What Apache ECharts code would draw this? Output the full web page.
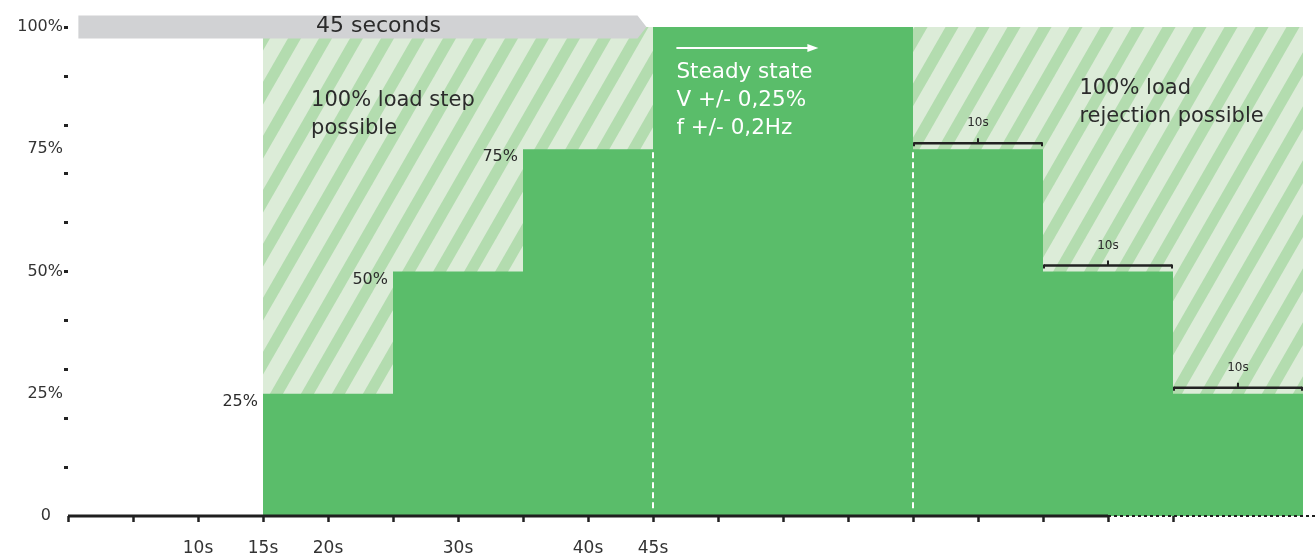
<!DOCTYPE html>
<html><head><meta charset="utf-8">
<script src="https://cdn.jsdelivr.net/npm/echarts@6/dist/echarts.min.js"></script>
<style>html,body{margin:0;padding:0;background:#fff}#c{width:1316px;height:558px}</style>
</head><body><div id="c"></div>
<script>
// ---- data ----
const stepStart = [15, 25, 35, 45, 65, 75, 85];
const stepEnd   = [25, 35, 45, 65, 75, 85, 95];
const loadPct   = [25, 50, 75, 100, 75, 50, 25];
const riseLabels = ['25%', '50%', '75%'];
const holdLabels = ['10s', '10s', '10s'];
const xTickValues = [0,5,10,15,20,25,30,35,40,45,50,55,60,65,70,75,80,85];
const xLabelValues = [10, 15, 20, 30, 40, 45];
const yTickValues = [10,20,30,40,50,60,70,80,90,100];
const yLabelValues = [0, 25, 50, 75, 100];
const hatchSpan = [15, 95, 100];
const dashedAt = [45, 65];
const dashedTop = 75;
const spanBar = [0.8, 44.5];
const spanText = '45 seconds';
const noteTexts = ['100% load step\npossible', 'Steady state\nV +/- 0,25%\nf +/- 0,2Hz', '100% load\nrejection possible'];
const axisSolidEnd = 80;
const axisEnd = 96;

const GREEN = '#5abd6a';
const DARK = '#2b2b2b';
const FONT = '"DejaVu Sans", sans-serif';

function makeHatch() {
  const W = 31, H = 54, S = 13;
  const c = document.createElement('canvas');
  c.width = W; c.height = H;
  const g = c.getContext('2d');
  g.fillStyle = '#dcecd8'; g.fillRect(0, 0, W, H);
  g.fillStyle = '#b3dcaf';
  for (let k = -2; k <= 2; k++) {
    const o = k * W;
    g.beginPath();
    g.moveTo(o, H); g.lineTo(o + S, H); g.lineTo(o + W + S, 0); g.lineTo(o + W, 0);
    g.closePath(); g.fill();
  }
  return c;
}
const hatch = makeHatch();

const stepData = stepStart.map((s, i) => [s, stepEnd[i], loadPct[i]]);

const chart = echarts.init(document.getElementById('c'), null, {renderer: 'canvas'});
chart.setOption({
  animation: false,
  grid: {left: 68, right: 0, top: 27, bottom: 42},
  xAxis: {
    type: 'value', min: 0, max: axisEnd,
    splitLine: {show: false},
    axisLine: {show: false},
    axisTick: {show: true, customValues: xTickValues, length: 6, lineStyle: {color: '#222', width: 2.5}},
    axisLabel: {customValues: xLabelValues, formatter: v => v + 's', margin: 24, fontSize: 17, color: '#333', fontFamily: FONT}
  },
  yAxis: {
    type: 'value', min: 0, max: 100,
    splitLine: {show: false},
    axisLine: {show: false},
    axisTick: {show: true, customValues: yTickValues, length: 4, lineStyle: {color: '#222', width: 3}},
    axisLabel: {
      customValues: yLabelValues, margin: 5, fontSize: 16, color: '#333', fontFamily: FONT,
      formatter: v => v === 0 ? '{z|0}' : v + '%',
      rich: {z: {fontSize: 16, color: '#333', fontFamily: FONT, padding: [0, 12, 0, 0]}}
    }
  },
  series: [
    { // hatched "possible" region
      type: 'custom', z: 1, silent: true,
      data: [hatchSpan],
      encode: {x: [0, 1], y: 2},
      renderItem: (p, api) => {
        const a = api.coord([api.value(0), api.value(2)]);
        const b = api.coord([api.value(1), 0]);
        return {type: 'rect', shape: {x: a[0], y: a[1], width: b[0] - a[0], height: b[1] - a[1]},
          style: {fill: {image: hatch, repeat: 'repeat'}}};
      }
    },
    { // load steps
      type: 'custom', z: 2, silent: true,
      data: stepData,
      encode: {x: [0, 1], y: 2},
      renderItem: (p, api) => {
        const a = api.coord([api.value(0), api.value(2)]);
        const b = api.coord([api.value(1), 0]);
        return {type: 'rect', shape: {x: a[0], y: a[1], width: b[0] - a[0], height: b[1] - a[1]},
          style: {fill: GREEN}};
      }
    },
    { // rising step labels
      type: 'custom', z: 3, silent: true,
      data: stepData.slice(0, 3),
      encode: {x: 0, y: 2},
      renderItem: (p, api) => {
        const a = api.coord([api.value(0), api.value(2)]);
        return {type: 'text', x: a[0] - 5, y: a[1] + 8,
          style: {text: riseLabels[p.dataIndex], fill: DARK, fontSize: 16, fontFamily: FONT, align: 'right', verticalAlign: 'middle'}};
      }
    },
    { // brackets on falling steps
      type: 'custom', z: 3, silent: true,
      data: stepData.slice(4),
      encode: {x: [0, 1], y: 2},
      renderItem: (p, api) => {
        const a = api.coord([api.value(0), api.value(2)]);
        const b = api.coord([api.value(1), api.value(2)]);
        const y = a[1] - 6;
        const m = (a[0] + b[0]) / 2;
        const st = {stroke: '#222', lineWidth: 2.5};
        return {type: 'group', children: [
          {type: 'line', shape: {x1: a[0] + 1, y1: y, x2: b[0] - 1, y2: y}, style: st},
          {type: 'line', shape: {x1: a[0] + 1, y1: y - 1, x2: a[0] + 1, y2: y + 3}, style: {stroke: '#222', lineWidth: 2}},
          {type: 'line', shape: {x1: b[0] - 1, y1: y - 1, x2: b[0] - 1, y2: y + 3}, style: {stroke: '#222', lineWidth: 2}},
          {type: 'line', shape: {x1: m, y1: y, x2: m, y2: y - 5}, style: {stroke: '#222', lineWidth: 2}},
          {type: 'text', x: m, y: y - 20, style: {text: holdLabels[p.dataIndex], fill: DARK, fontSize: 12, fontFamily: FONT, align: 'center', verticalAlign: 'middle'}}
        ]};
      }
    },
    { // dashed white lines
      type: 'custom', z: 3, silent: true,
      data: dashedAt.map(x => [x, dashedTop]),
      encode: {x: 0, y: 1},
      renderItem: (p, api) => {
        const a = api.coord([api.value(0), api.value(1)]);
        const b = api.coord([api.value(0), 0]);
        return {type: 'line', shape: {x1: a[0], y1: a[1] + 3, x2: b[0], y2: b[1] - 4},
          style: {stroke: '#ffffff', lineWidth: 2, lineDash: [6, 4]}};
      }
    },
    { // gray "45 seconds" span arrow
      type: 'custom', z: 4, silent: true,
      data: [[spanBar[0], spanBar[1], 100]],
      encode: {x: [0, 1], y: 2},
      renderItem: (p, api) => {
        const a = api.coord([api.value(0), api.value(2)]);
        const b = api.coord([api.value(1), api.value(2)]);
        const h = 11.5, tip = 9;
        return {type: 'group', children: [
          {type: 'polygon', shape: {points: [[a[0], a[1] - h], [b[0] - tip, a[1] - h], [b[0], a[1]], [b[0] - tip, a[1] + h], [a[0], a[1] + h]]},
            style: {fill: '#d1d2d4'}},
          {type: 'text', x: a[0] + 300, y: a[1] - 1, style: {text: spanText, fill: DARK, fontSize: 22, fontFamily: FONT, align: 'center', verticalAlign: 'middle'}}
        ]};
      }
    },
    { // text notes
      type: 'custom', z: 5, silent: true,
      data: [[18.7, 84.9, 0], [46.8, 90.8, 1], [77.8, 87.5, 2]],
      encode: {x: 0, y: 1},
      renderItem: (p, api) => {
        const a = api.coord([api.value(0), api.value(1)]);
        const i = api.value(2);
        const fills = [DARK, '#ffffff', DARK];
        const lh = 28;
        const children = [{type: 'text', x: a[0], y: a[1] - lh / 2,
          style: {text: noteTexts[i], fill: fills[i], fontSize: i === 1 ? 21.5 : 21, lineHeight: lh, fontFamily: FONT, align: 'left', verticalAlign: 'top'}}];
        if (i === 1) {
          const y = a[1] - 24;
          children.push({type: 'line', shape: {x1: a[0], y1: y, x2: a[0] + 133, y2: y}, style: {stroke: '#fff', lineWidth: 2}});
          children.push({type: 'polygon', shape: {points: [[a[0] + 131, y - 4], [a[0] + 142, y], [a[0] + 131, y + 4]]}, style: {fill: '#fff'}});
        }
        return {type: 'group', children};
      }
    },
    { // x axis line solid
      type: 'line', z: 6, silent: true, clip: false, symbol: 'none',
      data: [[0, 0], [axisSolidEnd, 0]],
      lineStyle: {color: '#1f1f1f', width: 3}
    },
    { // x axis line dotted
      type: 'line', z: 6, silent: true, clip: false, symbol: 'none',
      data: [[axisSolidEnd, 0], [axisEnd, 0]],
      lineStyle: {color: '#1f1f1f', width: 2, type: [3, 3]}
    }
  ]
});
</script></body></html>
